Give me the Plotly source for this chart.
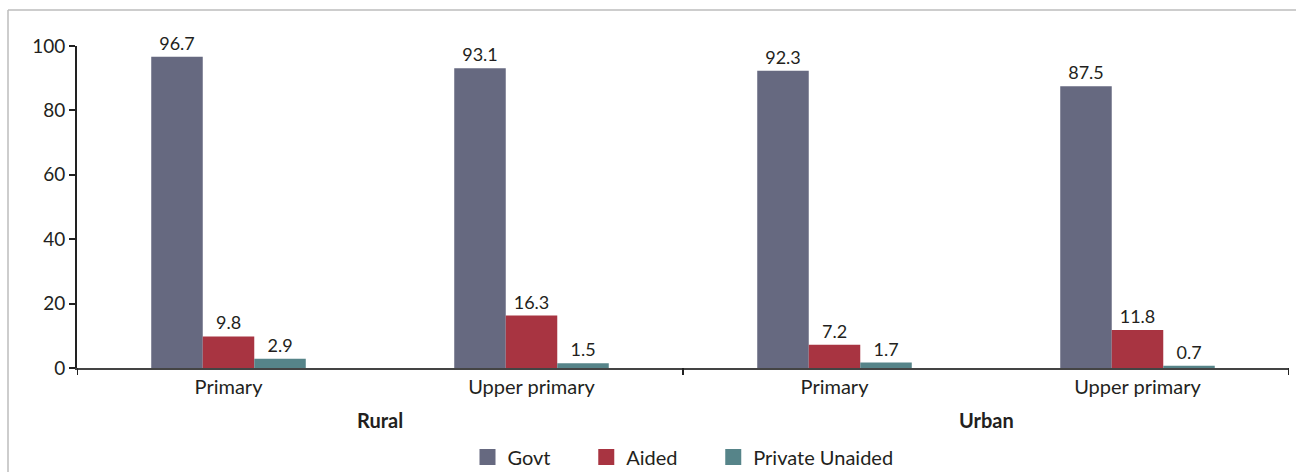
import plotly.graph_objects as go

categories = ["Primary", "Upper primary", "Primary ", "Upper primary "]
tick_labels = ["Primary", "Upper primary", "Primary", "Upper primary"]
groups = ["Rural", "Urban"]
govt = [96.7, 93.1, 92.3, 87.5]
aided = [9.8, 16.3, 7.2, 11.8]
private_unaided = [2.9, 1.5, 1.7, 0.7]
y_ticks = [0, 20, 40, 60, 80, 100]

colors = {"Govt": "#666980", "Aided": "#a83441", "Private Unaided": "#568489"}
FONT = "Lato"
TXT = "#231f20"

fig = go.Figure()
series = [("Govt", govt), ("Aided", aided), ("Private Unaided", private_unaided)]
for name, vals in series:
    fig.add_trace(go.Bar(
        x=categories, y=vals, name=name, showlegend=False,
        marker=dict(color=colors[name], line=dict(width=0)),
        text=[f"{v:.1f}" for v in vals], textposition="outside",
        textfont=dict(family=FONT, size=18, color=TXT),
        cliponaxis=False,
    ))
# legend proxies with larger square swatches (trailing spaces widen the gap between items)
pad = "\u00a0" * 6
for i, (name, _) in enumerate(series):
    fig.add_trace(go.Scatter(
        x=[None], y=[None], mode="markers",
        name=name + (pad if i < len(series) - 1 else ""),
        marker=dict(symbol="square", size=16, color=colors[name]),
    ))

L, R, T, B = 77, 7, 46, 104
W, H = 1296, 472
pw, ph = W - L - R, H - T - B

fig.update_layout(
    width=W, height=H,
    margin=dict(l=L, r=R, t=T, b=B, autoexpand=False),
    paper_bgcolor="white", plot_bgcolor="white",
    barmode="group", bargap=0.49, bargroupgap=0,
    font=dict(family=FONT, size=20, color=TXT),
    showlegend=True,
    legend=dict(orientation="h", x=0.5, xanchor="center", y=(T + ph - 457) / ph, yanchor="middle",
                font=dict(family=FONT, size=20, color=TXT), itemwidth=30, tracegroupgap=0),
    xaxis=dict(type="category", categoryorder="array", categoryarray=categories,
               tickvals=categories, ticktext=tick_labels, ticks="",
               showline=True, linecolor="#444", linewidth=2, showgrid=False,
               range=[-0.5, 3.5], tickfont=dict(family=FONT, size=20, color=TXT)),
    yaxis=dict(range=[0, 100], tickvals=y_ticks, ticks="outside", ticklen=6, tickwidth=2,
               tickcolor="#222", showline=True, linecolor="#222", linewidth=2, showgrid=False,
               zeroline=False, tickfont=dict(family=FONT, size=19, color=TXT)),
)

# group boundary ticks
for xb in [-0.5, 1.5, 3.5]:
    fig.add_shape(type="line", xref="x", yref="paper", x0=xb, x1=xb, y0=0, y1=-7 / ph,
                  line=dict(color="#222", width=2))

# group labels
for i, g in enumerate(groups):
    fig.add_annotation(x=i * 2 + 0.5, xref="x", y=(T + ph - 420) / ph, yref="paper",
                       text=f"<b>{g}</b>", showarrow=False,
                       font=dict(family=FONT, size=20, color=TXT), yanchor="middle")

# outer frame (left and top only visible)
bx = (8 - L) / pw
by = (T + ph - 10) / ph
fig.add_shape(type="line", xref="paper", yref="paper", x0=bx, x1=bx, y0=by, y1=-(B + 5) / ph,
              line=dict(color="#bdbdbd", width=1.5))
fig.add_shape(type="line", xref="paper", yref="paper", x0=bx, x1=(W - L + 5) / pw, y0=by, y1=by,
              line=dict(color="#bdbdbd", width=1.5))

fig.write_html("out.html")
